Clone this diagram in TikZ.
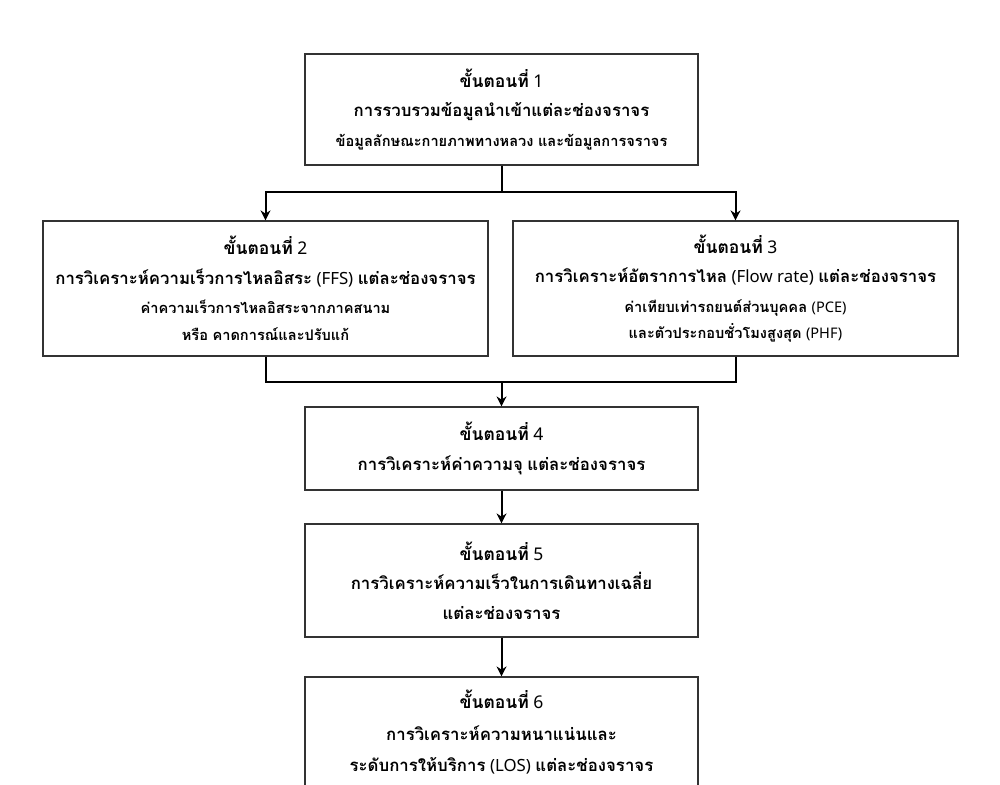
\documentclass[tikz,border=0pt]{standalone}
\usepackage{fontspec}
\setmainfont[Script=Thai]{Loma}
\newfontfamily\latf{Noto Sans}
\usetikzlibrary{arrows.meta}
\newcommand{\lat}[1]{{\latf #1}}
\newcommand{\ttl}[1]{{\fontsize{17.5}{29.5}\selectfont #1}}
\newcommand{\sbl}[1]{{\fontsize{14.6}{29.5}\selectfont #1}}
\newcommand{\bxfont}{\fontsize{16.8}{29.5}\selectfont\bfseries\setlength{\spaceskip}{4.5pt}}
\tikzset{
  stepbox/.style={draw=black!80, line width=1.2pt, inner sep=0pt, align=center, fill=white,
    font=\bxfont},
  conn/.style={line width=2pt, draw=black},
  arr/.style={conn, -{Stealth[length=10pt,width=10pt]}},
}
\begin{document}
\begin{tikzpicture}[x=1pt,y=-1pt]
\useasboundingbox (0,0) rectangle (1000,784);
\clip (0,0) rectangle (1000,784);
\node[stepbox, minimum width=393pt, minimum height=111pt] (b1) at (501.5,109.5)
  {\ttl{ขั้นตอนที่ \lat{1}}\\ การรวบรวมข้อมูลนำเข้าแต่ละช่องจราจร\\ \sbl{ข้อมูลลักษณะกายภาพทางหลวง และข้อมูลการจราจร}};
\node[stepbox, minimum width=445pt, minimum height=135pt] (b2) at (265.5,288.5)
  {\ttl{ขั้นตอนที่ \lat{2}}\\ การวิเคราะห์ความเร็วการไหลอิสระ \lat{(FFS)} แต่ละช่องจราจร\\ \sbl{ค่าความเร็วการไหลอิสระจากภาคสนาม}\\[-3pt] \sbl{หรือ คาดการณ์และปรับแก้}};
\node[stepbox, minimum width=445pt, minimum height=135pt] (b3) at (735.5,288.5)
  {\ttl{ขั้นตอนที่ \lat{3}}\\ การวิเคราะห์อัตราการไหล \lat{(Flow rate)} แต่ละช่องจราจร\\ \sbl{ค่าเทียบเท่ารถยนต์ส่วนบุคคล \lat{(PCE)}}\\[-3pt] \sbl{และตัวประกอบชั่วโมงสูงสุด \lat{(PHF)}}};
\node[stepbox, minimum width=393pt, minimum height=83pt] (b4) at (501.5,448.5)
  {\ttl{ขั้นตอนที่ \lat{4}}\\ การวิเคราะห์ค่าความจุ แต่ละช่องจราจร};
\node[stepbox, minimum width=393pt, minimum height=113pt] (b5) at (501.5,580.5)
  {\ttl{ขั้นตอนที่ \lat{5}}\\ การวิเคราะห์ความเร็วในการเดินทางเฉลี่ย\\ แต่ละช่องจราจร};
\node[stepbox, minimum width=393pt, minimum height=111pt] (b6) at (501.5,732.5)
  {\ttl{ขั้นตอนที่ \lat{6}}\\[2pt] การวิเคราะห์ความหนาแน่นและ\\[2pt] ระดับการให้บริการ \lat{(LOS)} แต่ละช่องจราจร};
\coordinate (j1) at (501.5,192);
\coordinate (j2) at (501.5,382);
\draw[conn] (b1.south) -- (j1);
\draw[arr] (j1) -| (b2.north);
\draw[arr] (j1) -| (b3.north);
\draw[conn] (b2.south) |- (j2);
\draw[conn] (b3.south) |- (j2);
\draw[arr] (j2) -- (b4.north);
\draw[arr] (b4.south) -- (b5.north);
\draw[arr] (b5.south) -- (b6.north);
\end{tikzpicture}
\end{document}
